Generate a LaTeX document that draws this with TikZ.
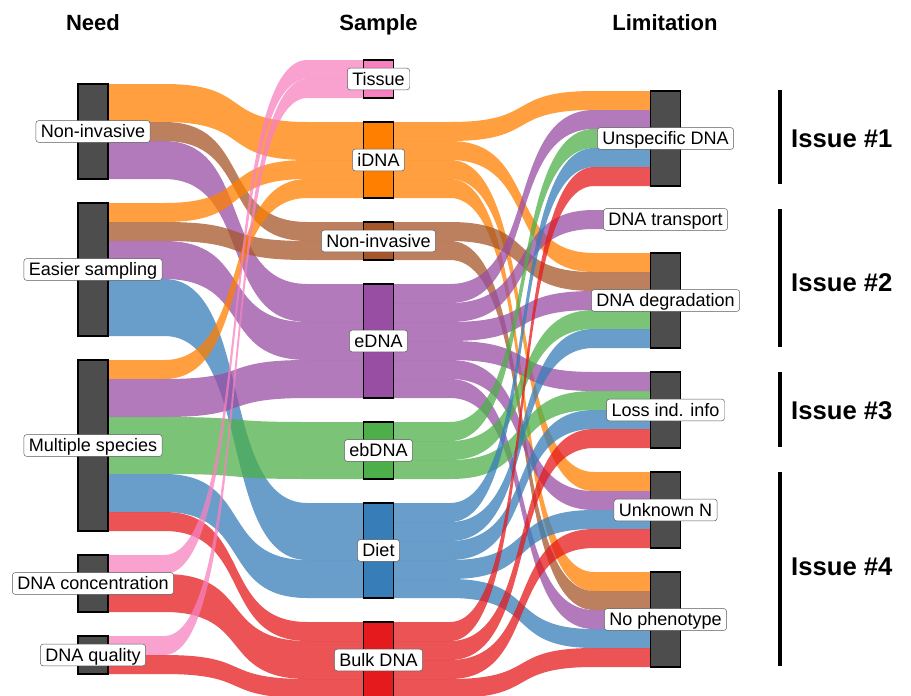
\documentclass[tikz,border=0pt]{standalone}
\usepackage{fontspec}
\setmainfont{Liberation Sans}
\usetikzlibrary{calc,backgrounds}
\definecolor{setred}{HTML}{E41A1C}
\definecolor{setblue}{HTML}{377EB8}
\definecolor{setgreen}{HTML}{4DAF4A}
\definecolor{setpurple}{HTML}{984EA3}
\definecolor{setorange}{HTML}{FF7F00}
\definecolor{setbrown}{HTML}{A65628}
\definecolor{setpink}{HTML}{F781BF}
\definecolor{boxgray}{HTML}{4D4D4D}
\newcommand{\un}{5.7mm}
% #1 colour, #2 from stratum, #3 offset, #4 to stratum, #5 offset, #6 width (units)
\newcommand{\ribbon}[6]{%
  \fill[#1, flow] let \p1=([yshift=-#3*\un]#2.north east),
    \p2=([yshift=-(#3+#6)*\un]#2.north east),
    \p3=([yshift=-#5*\un]#4.north west),
    \p4=([yshift=-(#5+#6)*\un]#4.north west),
    \p5=($(\p1)!.22!(\p3)$), \p6=($(\p1)!.567!(\p3)$),
    \p7=($(\p1)!.433!(\p3)$), \p8=($(\p1)!.78!(\p3)$) in
    (\p1) -- (\x5,\y1) .. controls (\x6,\y1) and (\x7,\y3) .. (\x8,\y3) -- (\p3)
    -- (\p4) -- (\x8,\y4) .. controls (\x7,\y4) and (\x6,\y2) .. (\x5,\y2) -- (\p2) -- cycle;}

\begin{document}
\begin{tikzpicture}[x=0.3mm, y=-0.3mm,
  stratum/.style={draw=black, line width=0.9pt, inner sep=0pt, outer sep=0pt,
    minimum width=9mm, fill=boxgray},
  tag/.style={draw=black!65, fill=white, rounded corners=0.9mm, line width=0.4pt,
    inner xsep=1.5mm, inner ysep=1.35mm, text height=3.87mm, text depth=0pt,
    font=\fontsize{15.4}{18}\selectfont},
  head/.style={font=\fontsize{18.8}{22}\selectfont\bfseries, anchor=base},
  issue/.style={font=\fontsize{21.9}{26}\selectfont\bfseries, anchor=west, inner sep=0pt},
  bracket/.style={line width=1mm},
  flow/.style={opacity=.75}]
\useasboundingbox (0,0) rectangle (911,695);

% strata: need
\node[stratum, minimum height=5*\un] (nNonInv) at (93,131.5) {};
\node[stratum, minimum height=7*\un] (nEasier) at (93,269.5) {};
\node[stratum, minimum height=9*\un] (nMulti) at (93,445.5) {};
\node[stratum, minimum height=3*\un] (nConc) at (93,583.5) {};
\node[stratum, minimum height=2*\un] (nQual) at (93,655) {};
% strata: sample
\node[stratum, fill=setpink, minimum height=2*\un] (sTissue) at (378.5,79) {};
\node[stratum, fill=setorange, minimum height=4*\un] (sIDNA) at (378.5,160) {};
\node[stratum, fill=setbrown, minimum height=2*\un] (sNonInv) at (378.5,241) {};
\node[stratum, fill=setpurple, minimum height=6*\un] (sEDNA) at (378.5,341) {};
\node[stratum, fill=setgreen, minimum height=3*\un] (sEbDNA) at (378.5,450.5) {};
\node[stratum, fill=setblue, minimum height=5*\un] (sDiet) at (378.5,550.5) {};
\node[stratum, fill=setred, minimum height=4*\un] (sBulk) at (378.5,660) {};
% strata: limitation
\node[stratum, minimum height=5*\un] (lUnspec) at (665.5,138.5) {};
\node[stratum, minimum height=1*\un] (lTransport) at (665.5,219.5) {};
\node[stratum, minimum height=5*\un] (lDegrad) at (665.5,300.5) {};
\node[stratum, minimum height=4*\un] (lLoss) at (665.5,410) {};
\node[stratum, minimum height=4*\un] (lUnknown) at (665.5,510) {};
\node[stratum, minimum height=5*\un] (lNoPheno) at (665.5,619.5) {};

\begin{scope}[on background layer]
  % need -> sample
  \ribbon{setorange}{nNonInv}{0}{sIDNA}{0}{2}
  \ribbon{setbrown}{nNonInv}{2}{sNonInv}{0}{1}
  \ribbon{setpurple}{nNonInv}{3}{sEDNA}{0}{2}
  \ribbon{setorange}{nEasier}{0}{sIDNA}{2}{1}
  \ribbon{setbrown}{nEasier}{1}{sNonInv}{1}{1}
  \ribbon{setpurple}{nEasier}{2}{sEDNA}{2}{2}
  \ribbon{setblue}{nEasier}{4}{sDiet}{0}{3}
  \ribbon{setorange}{nMulti}{0}{sIDNA}{3}{1}
  \ribbon{setpurple}{nMulti}{1}{sEDNA}{4}{2}
  \ribbon{setgreen}{nMulti}{3}{sEbDNA}{0}{3}
  \ribbon{setblue}{nMulti}{6}{sDiet}{3}{2}
  \ribbon{setred}{nMulti}{8}{sBulk}{0}{1}
  \ribbon{setpink}{nConc}{0}{sTissue}{0}{1}
  \ribbon{setred}{nConc}{1}{sBulk}{1}{2}
  \ribbon{setpink}{nQual}{0}{sTissue}{1}{1}
  \ribbon{setred}{nQual}{1}{sBulk}{3}{1}
  % sample -> limitation
  \ribbon{setorange}{sIDNA}{0}{lUnspec}{0}{1}
  \ribbon{setorange}{sIDNA}{1}{lDegrad}{0}{1}
  \ribbon{setorange}{sIDNA}{2}{lUnknown}{0}{1}
  \ribbon{setorange}{sIDNA}{3}{lNoPheno}{0}{1}
  \ribbon{setbrown}{sNonInv}{0}{lDegrad}{1}{1}
  \ribbon{setbrown}{sNonInv}{1}{lNoPheno}{1}{1}
  \ribbon{setpurple}{sEDNA}{0}{lUnspec}{1}{1}
  \ribbon{setpurple}{sEDNA}{1}{lTransport}{0}{1}
  \ribbon{setpurple}{sEDNA}{2}{lDegrad}{2}{1}
  \ribbon{setpurple}{sEDNA}{3}{lLoss}{0}{1}
  \ribbon{setpurple}{sEDNA}{4}{lUnknown}{1}{1}
  \ribbon{setpurple}{sEDNA}{5}{lNoPheno}{2}{1}
  \ribbon{setgreen}{sEbDNA}{0}{lUnspec}{2}{1}
  \ribbon{setgreen}{sEbDNA}{1}{lDegrad}{3}{1}
  \ribbon{setgreen}{sEbDNA}{2}{lLoss}{1}{1}
  \ribbon{setblue}{sDiet}{0}{lUnspec}{3}{1}
  \ribbon{setblue}{sDiet}{1}{lDegrad}{4}{1}
  \ribbon{setblue}{sDiet}{2}{lLoss}{2}{1}
  \ribbon{setblue}{sDiet}{3}{lUnknown}{2}{1}
  \ribbon{setblue}{sDiet}{4}{lNoPheno}{3}{1}
  \ribbon{setred}{sBulk}{0}{lUnspec}{4}{1}
  \ribbon{setred}{sBulk}{1}{lLoss}{3}{1}
  \ribbon{setred}{sBulk}{2}{lUnknown}{3}{1}
  \ribbon{setred}{sBulk}{3}{lNoPheno}{4}{1}
\end{scope}

% labels
\node[tag] (tNonInv) at (nNonInv) {Non-invasive};
\node[tag] (tEasier) at (nEasier) {Easier sampling};
\node[tag] (tMulti) at (nMulti) {Multiple species};
\node[tag] (tConc) at (nConc) {DNA concentration};
\node[tag] (tQual) at (nQual) {DNA quality};
\node[tag] (tTissue) at (sTissue) {Tissue};
\node[tag] (tIDNA) at (sIDNA) {iDNA};
\node[tag] (tSNonInv) at (sNonInv) {Non-invasive};
\node[tag] (tEDNA) at (sEDNA) {eDNA};
\node[tag] (tEbDNA) at (sEbDNA) {ebDNA};
\node[tag] (tDiet) at (sDiet) {Diet};
\node[tag] (tBulk) at (sBulk) {Bulk DNA};
\node[tag] (tUnspec) at (lUnspec) {Unspecific DNA};
\node[tag] (tTransport) at (lTransport) {DNA transport};
\node[tag] (tDegrad) at (lDegrad) {DNA degradation};
\node[tag] (tLoss) at (lLoss) {Loss ind. info};
\node[tag] (tUnknown) at (lUnknown) {Unknown N};
\node[tag] (tNoPheno) at (lNoPheno) {No phenotype};

% headers
\node[head] (hNeed) at (93,30) {Need};
\node[head] (hSample) at (378.5,30) {Sample};
\node[head] (hLimit) at (665,30) {Limitation};

% issue brackets
\draw[bracket] (780,90) -- (780,184);
\draw[bracket] (780,209) -- (780,347);
\draw[bracket] (780,372) -- (780,447);
\draw[bracket] (780,472) -- (780,666);
\node[issue] (iOne) at (791,139) {Issue \#1};
\node[issue] (iTwo) at (791,282.5) {Issue \#2};
\node[issue] (iThree) at (791,410.5) {Issue \#3};
\node[issue] (iFour) at (791,567) {Issue \#4};
\end{tikzpicture}
\end{document}
